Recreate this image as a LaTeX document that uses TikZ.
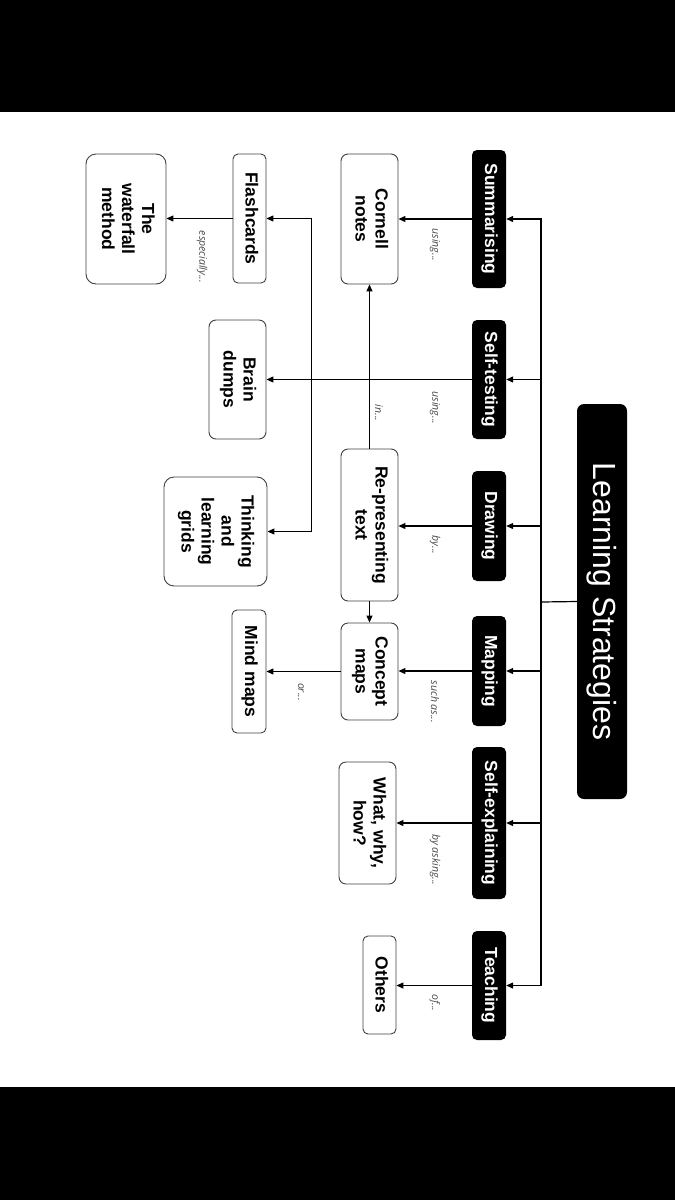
\documentclass[tikz,border=0pt]{standalone}
\usepackage{graphicx}
\usepackage{fontspec}
\setmainfont{Liberation Sans}
\newfontfamily\lblfont{Open Sans}
\usetikzlibrary{arrows.meta}
\newcommand\rtxt[1]{\rotatebox{-90}{\begin{tabular}{@{}c@{}}#1\end{tabular}}}
\begin{document}
\begin{tikzpicture}[x=1pt,y=-1pt,
  wbox/.style={draw=black!75, line width=0.9pt, rounded corners=7pt, fill=white, inner sep=0pt,
    font=\bfseries\fontsize{17.5}{20}\selectfont},
  bbox/.style={fill=black, rounded corners=5pt, text=white, inner sep=0pt,
    font=\bfseries\fontsize{17.5}{20}\selectfont},
  lbl/.style={rotate=-90, text=black!72, inner sep=0pt, font=\lblfont\itshape\fontsize{10.5}{12}\selectfont},
  arr/.style={line width=1.2pt, -{Triangle[length=7pt,width=6pt]}},
  ln/.style={line width=1.2pt}]
\useasboundingbox (0,0) rectangle (675,1200);
\fill[black] (0,0) rectangle (675,112);
\fill[black] (0,1087) rectangle (675,1200);

% title
\node[bbox, rounded corners=7pt, minimum width=50, minimum height=395, font=\fontsize{32}{36}\selectfont]
  (title) at (602,601.5) {\rotatebox{-90}{Learning Strategies}};

% strategies
\node[bbox, minimum width=34, minimum height=138] (summ) at (489,219) {\rtxt{Summarising}};
\node[bbox, minimum width=34, minimum height=119] (selft) at (489,379.5) {\rtxt{Self-testing}};
\node[bbox, minimum width=34, minimum height=110] (drw) at (489,526) {\rtxt{Drawing}};
\node[bbox, minimum width=34, minimum height=110] (mapp) at (489,671) {\rtxt{Mapping}};
\node[bbox, minimum width=34, minimum height=152] (selfe) at (489,823) {\rtxt{Self-explaining}};
\node[bbox, minimum width=34, minimum height=109] (teach) at (489,985.5) {\rtxt{Teaching}};

% second column
\node[wbox, minimum width=57, minimum height=130] (cornell) at (369.5,219) {\rtxt{Cornell\\notes}};
\node[wbox, minimum width=57, minimum height=152] (repr) at (369.5,525) {\rtxt{Re-presenting\\text}};
\node[wbox, minimum width=57, minimum height=97] (concept) at (369.5,671.5) {\rtxt{Concept\\maps}};
\node[wbox, minimum width=57, minimum height=122] (what) at (367.5,823) {\rtxt{What, why,\\how?}};
\node[wbox, rounded corners=5pt, minimum width=33, minimum height=98] (others) at (379.5,985) {\rtxt{Others}};

% third column
\node[wbox, rounded corners=5pt, minimum width=33, minimum height=129] (flash) at (249.5,218.5) {\rtxt{Flashcards}};
\node[wbox, rounded corners=10pt, minimum width=80, minimum height=130] (water) at (126,219) {\rtxt{The\\waterfall\\method}};
\node[wbox, minimum width=57, minimum height=119] (brain) at (237.5,379.5) {\rtxt{Brain\\dumps}};
\node[wbox, rounded corners=10pt, minimum width=103, minimum height=109] (grids) at (215.5,531.5) {\rtxt{Thinking\\and\\learning\\grids}};
\node[wbox, rounded corners=5pt, minimum width=34, minimum height=123] (mind) at (249,671.5) {\rtxt{Mind maps}};

% trunk
\coordinate (trunk) at (541,602);
\draw[ln] (title.west) -- (trunk);
\draw[arr] (trunk) |- (summ.east);
\draw[arr] (trunk) |- (selft.east);
\draw[arr] (trunk) |- (drw.east);
\draw[arr] (trunk) |- (mapp.east);
\draw[arr] (trunk) |- (selfe.east);
\draw[arr] (trunk) |- (teach.east);

% strategy to second column
\draw[arr] (summ.west) -- (summ.west -| cornell.east);
\draw[arr] (selft.west) -- (selft.west -| brain.east);
\draw[arr] (drw.west) -- (drw.west -| repr.east);
\draw[arr] (mapp.west) -- (mapp.west -| concept.east);
\draw[arr] (selfe.west) -- (selfe.west -| what.east);
\draw[arr] (teach.west) -- (teach.west -| others.east);

% re-presenting links
\draw[arr] (repr.north) -- (cornell.south);
\draw[arr] (repr.south) -- (concept.north);
\draw[arr] (concept.west) -- (concept.west -| mind.east);
\draw[arr] (flash.west) -- (flash.west -| water.east);
\draw[line width=1.2pt, {Triangle[length=7pt,width=6pt]}-{Triangle[length=7pt,width=6pt]}]
  (flash.east) -- ++(45,0) |- (grids.east);

% labels
\node[lbl] (l1) at (435,245) {using...};
\node[lbl] (l2) at (435,408) {using...};
\node[lbl] (l3) at (435,545) {by...};
\node[lbl] (l4) at (435,702) {such as...};
\node[lbl] (l5) at (435,860) {by asking...};
\node[lbl] (l6) at (435,1003) {of...};
\node[lbl] (l7) at (379,413) {in...};
\node[lbl] (l8) at (301,692) {or...};
\node[lbl] (l9) at (202,257) {especially...};
\end{tikzpicture}
\end{document}
